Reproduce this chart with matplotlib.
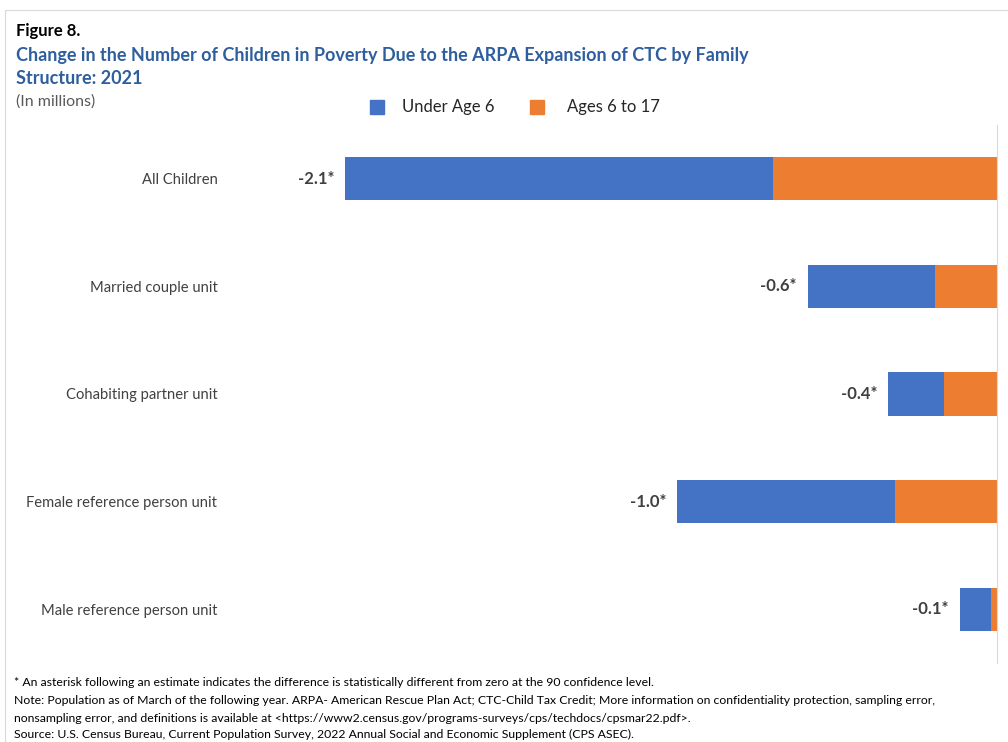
import numpy as np
import matplotlib.pyplot as plt

plt.rcParams['font.family'] = ['Lato', 'DejaVu Sans']

categories = ['All Children', 'Married couple unit', 'Cohabiting partner unit',
              'Female reference person unit', 'Male reference person unit']
under_6 = [-1.38, -0.41, -0.18, -0.70, -0.10]
ages_6_17 = [-0.72, -0.20, -0.17, -0.33, -0.02]
labels = ['-2.1*', '-0.6*', '-0.4*', '-1.0*', '-0.1*']

blue = '#4472C4'
orange = '#ED7D31'

fig = plt.figure(figsize=(10.08, 7.42), dpi=100)
ax = fig.add_axes([230 / 1008, 1 - 663 / 742, 767 / 1008, 538 / 742])

pos = np.arange(len(categories))
ax.barh(pos, ages_6_17, height=0.4, color=orange)
ax.barh(pos, under_6, left=ages_6_17, height=0.4, color=blue)

# totals left of each bar
for i in range(len(categories)):
    total = under_6[i] + ages_6_17[i]
    ax.text(total - 0.035, pos[i], labels[i], ha='right', va='center',
            fontsize=12, fontweight='bold', color='#404040')

ax.set_xlim(-2.47, 0)
ax.set_ylim(4.5, -0.5)
ax.set_yticks(pos)
ax.set_yticklabels(categories, fontsize=10.6, color='#404040')
ax.tick_params(axis='y', length=0, pad=9)
ax.set_xticks([])
for s in ['left', 'top', 'bottom']:
    ax.spines[s].set_visible(False)
ax.spines['right'].set_color('#d9d9d9')

# light frame round the figure
fig.patches.append(plt.Rectangle((5 / 1008, -0.01), 1.02, 1 - 10 / 742 + 0.01,
                                 transform=fig.transFigure, fill=False,
                                 edgecolor='#d9d9d9', linewidth=0.8))

# titles
fig.text(16 / 1008, 1 - 31 / 742, 'Figure 8.', fontsize=12, fontweight='bold',
         color='black', va='center')
fig.text(16 / 1008, 1 - 55 / 742,
         'Change in the Number of Children in Poverty Due to the ARPA Expansion of CTC by Family',
         fontsize=13, fontweight='bold', color='#2E5E9E', va='center')
fig.text(16 / 1008, 1 - 79 / 742, 'Structure: 2021', fontsize=13, fontweight='bold',
         color='#2E5E9E', va='center')
fig.text(16 / 1008, 1 - 102 / 742, '(In millions)', fontsize=11.5, color='#595959',
         va='center')

# legend
fig.patches.append(plt.Rectangle((370 / 1008, 1 - 114 / 742), 14 / 1008, 14 / 742,
                                 transform=fig.transFigure, color=blue))
fig.text(402 / 1008, 1 - 107 / 742, 'Under Age 6', fontsize=12, color='#262626', va='center')
fig.patches.append(plt.Rectangle((530 / 1008, 1 - 114 / 742), 14 / 1008, 14 / 742,
                                 transform=fig.transFigure, color=orange))
fig.text(567 / 1008, 1 - 107 / 742, 'Ages 6 to 17', fontsize=12, color='#262626', va='center')

# notes
notes = [
    '* An asterisk following an estimate indicates the difference is statistically different from zero at the 90 confidence level.',
    'Note: Population as of March of the following year. ARPA- American Rescue Plan Act; CTC-Child Tax Credit; More information on confidentiality protection, sampling error,',
    'nonsampling error, and definitions is available at <https://www2.census.gov/programs-surveys/cps/techdocs/cpsmar22.pdf>.',
    'Source: U.S. Census Bureau, Current Population Survey, 2022 Annual Social and Economic Supplement (CPS ASEC).',
]
note_y = [683, 701, 718, 734]
for k, line in enumerate(notes):
    fig.text(14 / 1008, 1 - note_y[k] / 742, line, fontsize=8.8, color='black', va='center')

fig.savefig('out.png', dpi=100)
